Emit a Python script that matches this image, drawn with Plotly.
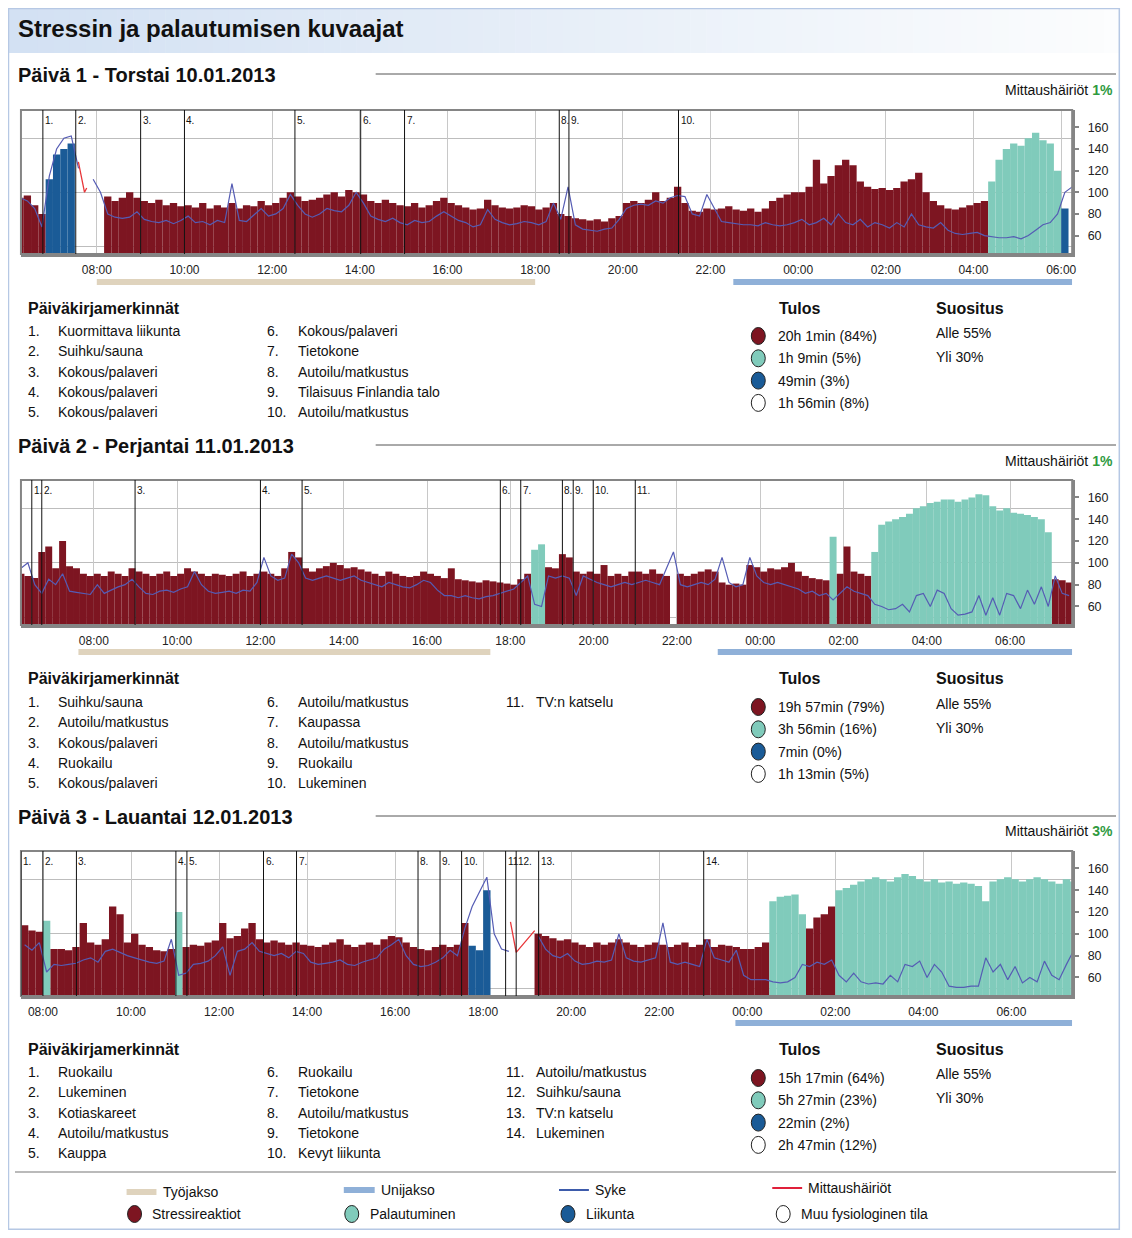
import plotly.graph_objects as go

# ---------------- page geometry helpers ----------------
W, H = 1116, 1222          # figure size (page has an 8px body margin)
OX, OY = 8, 8
def PX(x): return (x - OX) / W
def PY(y): return 1 - (y - OY) / H

FONT = "Liberation Sans, Arial, sans-serif"

# ---------------- data ----------------
day_titles = ["Päivä 1 - Torstai 10.01.2013",
              "Päivä 2 - Perjantai 11.01.2013",
              "Päivä 3 - Lauantai 12.01.2013"]
disturb_pct = ["1%", "1%", "3%"]

# 10-minute bins, start hour of first bin for each day
bin_start = [6 + 10/60, 6 + 10/60, 7.5]
x_ranges = [[6.27, 30.25], [6.25, 31.49], [7.5, 31.38]]

# state per bin: S = stressireaktio, R = palautuminen, E = liikunta, O = muu tila
states_d1 = "SSSS" "EEEE" "OOOO" + "S" * 121 + "R" * 10 + "E" + "O"
states_d2 = "S" * 74 + "RR" + "S" * 18 + "O" + "S" * 22 + "R" + "S" * 5 + "R" * 26 + "S" * 3
states_d3 = "SSS" "R" + "S" * 17 + "R" + "S" * 39 + "EEE" + "O" * 6 + "S" * 32 + "R" * 5 + "S" * 4 + "R" * 33

N = None
heights_d1 = [95, 97, 88, 80,
              112, 135, 140, 145,
              N, N, N, N,
              96, 92, 95, 100, 95, 92, 90, 93, 88, 90, 87,
              88, 86, 90, 85, 88, 86, 90, 85, 88, 87, 92, 88,
              90, 95, 100, 96, 92, 93, 95, 98, 100, 96, 102, 100,
              98, 92, 90, 93, 90, 88, 87, 90, 86, 88, 92, 95,
              90, 88, 86, 84, 85, 93, 88, 86, 85, 86, 88, 87,
              84, 86, 90, 80, 78, 76, 75, 74, 75, 73, 76, 78,
              90, 92, 90, 93, 100, 92, 95, 105, 90, 83, 82, 85,
              84, 85, 87, 84, 83, 85, 82, 85, 92, 95, 98, 100,
              100, 105, 130, 108, 115, 125, 130, 125, 110, 105, 103, 104,
              102, 104, 110, 112, 118, 100, 92, 88, 85, 84, 86, 88,
              90, 92, 110, 130, 140, 145, 143, 150, 155, 148, 145, 120,
              85, N]
hr_d1 = [95, 92, 85, 68,
         115, 140, 150, 152,
         122, N, 112, 100,
         80, 77, 76, 77, 82, 75, 73, 72, 74, 71, 74,
         78, 72, 73, 70, 74, 72, 108, 74, 73, 79, 85, 78,
         80, 85, 98, 88, 80, 77, 80, 85, 83, 82, 88, 100,
         90, 78, 75, 73, 76, 72, 70, 74, 72, 73, 78, 82,
         78, 74, 72, 68, 70, 84, 75, 72, 70, 71, 73, 72,
         70, 73, 90, 75, 105, 70, 66, 65, 64, 66, 67, 75,
         85, 88, 89, 88, 92, 90, 95, 97, 96, 80, 78, 98,
         85, 73, 72, 71, 70, 70, 69, 72, 70, 69, 70, 72,
         75, 70, 72, 76, 70, 80, 72, 70, 75, 68, 72, 70,
         67, 72, 68, 80, 70, 68, 67, 72, 65, 62, 61, 62,
         63, 60, 59, 58, 58, 59, 57, 60, 65, 70, 72, 80,
         100, 105]

heights_d2 = [90, 88, 86, 110, 115, 95, 120, 97, 95, 90, 88, 90,
              88, 92, 90, 88, 95, 92, 90, 88, 90, 92, 88, 90,
              95, 92, 90, 88, 90, 89, 88, 90, 92, 88, 90, 92,
              90, 88, 95, 110, 105, 95, 92, 95, 97, 100, 98, 95,
              96, 94, 92, 90, 88, 92, 90, 88, 87, 88, 92, 90,
              88, 86, 95, 85, 84, 83, 82, 84, 83, 82, 81, 80,
              85, 90, 112, 117, 96, 95, 108, 105, 92, 90, 92, 90,
              98, 88, 90, 88, 92, 92, 90, 94, 90, 88, N, 90,
              88, 90, 92, 94, 92, 82, 80, 81, 80, 98, 96, 92,
              95, 94, 96, 100, 92, 88, 86, 85, 84, 124, 90, 115,
              92, 90, 88, 110, 135, 138, 140, 142, 145, 150, 152, 155,
              156, 158, 158, 156, 158, 160, 163, 162, 152, 148, 150, 146,
              145, 144, 142, 140, 128, 85, 84, 82]
hr_d2 = [95, 100, 80, 72, 85, 80, 90, 74, 73, 72, 71, 80,
         72, 75, 78, 80, 85, 78, 72, 71, 74, 75, 73, 76,
         78, 92, 80, 74, 72, 73, 74, 72, 75, 74, 82, 105,
         88, 84, 86, 108, 100, 86, 84, 86, 88, 86, 84, 86,
         88, 84, 82, 80, 78, 82, 80, 78, 77, 80, 84, 82,
         75, 70, 70, 68, 70, 68, 67, 69, 70, 72, 74, 76,
         82, 88, 62, 60, 88, 86, 88, 86, 70, 88, 85, 82,
         80, 78, 80, 82, 80, 82, 84, 82, 80, 95, 110, 80,
         78, 80, 82, 80, 85, 105, 82, 78, 80, 105, 88, 82,
         80, 82, 80, 78, 76, 72, 74, 70, 72, 66, 72, 78,
         74, 72, 70, 62, 60, 57, 58, 62, 55, 70, 72, 60,
         75, 72, 58, 52, 53, 55, 70, 52, 68, 52, 72, 70,
         58, 75, 62, 78, 60, 88, 72, 70]

heights_d3 = [108, 103, 102, 112, 86, 86, 85, 88, 110, 92, 90, 95,
              125, 118, 92, 100, 90, 88, 85, 84, 86, 120, 88, 90,
              89, 92, 94, 110, 96, 98, 105, 110, 95, 92, 94, 92,
              90, 92, 90, 89, 88, 90, 92, 95, 90, 88, 90, 92,
              90, 95, 98, 97, 92, 88, 86, 85, 88, 90, 88, 90,
              110, 89, 85, 140, N, N, N, N, N, N, 100, 98,
              96, 94, 95, 92, 90, 88, 92, 90, 92, 95, 92, 90,
              88, 90, 92, 90, 88, 90, 92, 88, 90, 95, 88, 90,
              89, 88, 86, 86, 88, 92, 130, 134, 135, 136, 118, 105,
              115, 118, 125, 140, 142, 145, 148, 150, 152, 150, 148, 152,
              155, 153, 150, 148, 150, 147, 148, 146, 147, 146, 144, 130,
              148, 150, 152, 150, 148, 150, 152, 150, 148, 146, 150, 148]
hr_d3 = [90, 85, 92, 65, 72, 71, 72, 73, 76, 78, 74, 84,
         86, 83, 80, 78, 76, 74, 73, 75, 95, 62, 64, 72,
         73, 75, 80, 88, 62, 84, 86, 92, 84, 82, 80, 82,
         78, 84, 82, 74, 72, 73, 74, 76, 72, 71, 74, 76,
         78, 86, 90, 95, 80, 72, 70, 71, 74, 78, 85, 80,
         105, 125, 138, 152, 100, 86, 84, N, N, N, 98, 86,
         80, 78, 82, 75, 72, 73, 75, 74, 76, 100, 78, 75,
         74, 76, 78, 110, 74, 72, 74, 72, 70, 95, 78, 76,
         74, 85, 62, 58, 58, 58, 56, 55, 56, 60, 72, 70,
         74, 72, 76, 62, 56, 64, 56, 54, 55, 54, 62, 56,
         72, 70, 75, 60, 72, 65, 52, 51, 51, 52, 52, 78,
         65, 72, 58, 70, 55, 60, 56, 75, 62, 58, 72, 85]

# measurement disturbance segments (hour, bpm)
dist_x = [[7.58, 7.72, 7.77], [], [18.62, 18.75, 19.17]]
dist_y = [[128, 100, 104], [], [111, 83, 103]]

# diary marker times (hours)
diary_t_d1 = [6.77, 7.52, 9.0, 10.0, 12.52, 14.02, 15.02, 18.55, 18.77, 21.27]
diary_t_d2 = [6.51, 6.75, 8.99, 12.0, 13.0, 17.76, 18.25, 19.25, 19.51, 19.99, 21.0]
diary_t_d3 = [7.5, 8.0, 8.76, 11.02, 11.27, 13.01, 13.76, 16.52, 17.02, 17.51, 18.51, 18.75, 19.26, 23.01]

diary_txt_d1 = ["Kuormittava liikunta", "Suihku/sauna", "Kokous/palaveri", "Kokous/palaveri",
                "Kokous/palaveri", "Kokous/palaveri", "Tietokone", "Autoilu/matkustus",
                "Tilaisuus Finlandia talo", "Autoilu/matkustus"]
diary_txt_d2 = ["Suihku/sauna", "Autoilu/matkustus", "Kokous/palaveri", "Ruokailu",
                "Kokous/palaveri", "Autoilu/matkustus", "Kaupassa", "Autoilu/matkustus",
                "Ruokailu", "Lukeminen", "TV:n katselu"]
diary_txt_d3 = ["Ruokailu", "Lukeminen", "Kotiaskareet", "Autoilu/matkustus", "Kauppa",
                "Ruokailu", "Tietokone", "Autoilu/matkustus", "Tietokone", "Kevyt liikunta",
                "Autoilu/matkustus", "Suihku/sauna", "TV:n katselu", "Lukeminen"]

# work (Työjakso) and sleep (Unijakso) periods, hours
work_start = [8.0, 7.63, None]
work_end = [18.0, 17.52, None]
sleep_start = [22.52, 22.98, 23.73]
sleep_end = [30.25, 31.49, 31.38]

tulos_d1 = ["20h 1min (84%)", "1h 9min (5%)", "49min (3%)", "1h 56min (8%)"]
tulos_d2 = ["19h 57min (79%)", "3h 56min (16%)", "7min (0%)", "1h 13min (5%)"]
tulos_d3 = ["15h 17min (64%)", "5h 27min (23%)", "22min (2%)", "2h 47min (12%)"]
suositus = ["Alle 55%", "Yli 30%"]

x_tick_hours = [8, 10, 12, 14, 16, 18, 20, 22, 24, 26, 28, 30]
x_tick_text = ["08:00", "10:00", "12:00", "14:00", "16:00", "18:00", "20:00",
               "22:00", "00:00", "02:00", "04:00", "06:00"]
y_ticks = [60, 80, 100, 120, 140, 160]
y_grid = [50, 100, 150]

legend_labels = ["Työjakso", "Unijakso", "Syke", "Mittaushäiriöt",
                 "Stressireaktiot", "Palautuminen", "Liikunta", "Muu fysiologinen tila"]

states = [states_d1, states_d2, states_d3]
heights = [heights_d1, heights_d2, heights_d3]
hrs = [hr_d1, hr_d2, hr_d3]
diary_t = [diary_t_d1, diary_t_d2, diary_t_d3]
diary_txt = [diary_txt_d1, diary_txt_d2, diary_txt_d3]
tulos = [tulos_d1, tulos_d2, tulos_d3]

# ---------------- styles ----------------
C_STRESS = "#7d1521"
C_REC = "#80cbbb"
C_EX = "#1a5b97"
C_HR = "#555cb4"
C_DIST = "#e8373a"
C_WORK = "#dfd3bd"
C_SLEEP = "#8fb0d8"
C_AXIS = "#858585"
state_colors = {"S": C_STRESS, "R": C_REC, "E": C_EX}
circle_colors = [C_STRESS, C_REC, C_EX, "#ffffff"]

plot_top = [110, 480, 851]
plot_bot = [254, 625, 996]
head_y = [75, 446, 817]
mitt_y = [90, 461, 831]
period_y = [282, 652, 1023]
sec_y = [308, 678, 1049]
item_y0 = [331, 702, 1072]
tulos_y0 = [336, 707, 1078]
sugg_y0 = [333, 704, 1074]
PLOT_X0, PLOT_X1 = 21, 1076

fig = go.Figure()
shapes = []
ann = []

def text(x, y, s, size=14, anchor="left", color="#111", bold=False):
    ann.append(dict(x=PX(x), y=PY(y), xref="paper", yref="paper", text=("<b>%s</b>" % s) if bold else s,
                    showarrow=False, xanchor=anchor, yanchor="middle",
                    font=dict(family=FONT, size=size, color=color)))

# outer frame and title band
nstrip = 70
x0b, x1b = 6, 1124
for i in range(nstrip):
    f = i / (nstrip - 1)
    r = int(211 + (252 - 211) * f); g = int(225 + (253 - 225) * f); b = int(243 + (254 - 243) * f)
    xa_ = x0b + (x1b - x0b) * i / nstrip
    xb_ = x0b + (x1b - x0b) * (i + 1) / nstrip + 0.5
    shapes.append(dict(type="rect", xref="paper", yref="paper", x0=PX(xa_), x1=PX(xb_),
                       y0=PY(53), y1=PY(4), fillcolor="rgb(%d,%d,%d)" % (r, g, b), line=dict(width=0),
                       layer="below"))
shapes.append(dict(type="rect", xref="paper", yref="paper", x0=PX(8.5), x1=PX(1123.3), y0=PY(1229.3), y1=PY(8.5),
                   line=dict(color="#b6c8e4", width=1.5), fillcolor="rgba(0,0,0,0)"))
text(16, 29, "Stressin ja palautumisen kuvaajat", size=24, bold=True)

for d in range(3):
    n = "" if d == 0 else str(d + 1)
    xa, ya = "x" + n, "y" + n
    centers = [bin_start[d] + (i + 0.5) / 6 for i in range(len(heights[d]))]

    for code, col in state_colors.items():
        xs = [c for c, s, h in zip(centers, states[d], heights[d]) if s == code and h is not None]
        ys = [h for s, h in zip(states[d], heights[d]) if s == code and h is not None]
        fig.add_trace(go.Bar(x=xs, y=ys, width=1 / 6, marker=dict(color=col, line=dict(width=0)),
                             xaxis=xa, yaxis=ya, showlegend=False, hoverinfo="skip"))
    fig.add_trace(go.Scatter(x=centers, y=hrs[d], mode="lines", connectgaps=False,
                             line=dict(color=C_HR, width=1.2), xaxis=xa, yaxis=ya,
                             showlegend=False, hoverinfo="skip"))
    if dist_x[d]:
        fig.add_trace(go.Scatter(x=dist_x[d], y=dist_y[d], mode="lines",
                                 line=dict(color=C_DIST, width=1.3), xaxis=xa, yaxis=ya,
                                 showlegend=False, hoverinfo="skip"))

    fig.layout["xaxis" + n] = dict(domain=[PX(PLOT_X0), PX(PLOT_X1)], range=x_ranges[d], anchor=ya,
                                   tickvals=x_tick_hours, ticktext=x_tick_text, showgrid=True,
                                   gridcolor="#c8c8c8", gridwidth=1, showline=True, linecolor=C_AXIS,
                                   linewidth=3, ticks="", zeroline=False, fixedrange=True,
                                   ticklabelstandoff=3,
                                   tickfont=dict(family=FONT, size=12, color="#222"))
    fig.layout["yaxis" + n] = dict(domain=[PY(plot_bot[d]), PY(plot_top[d])], range=[43, 176], anchor=xa,
                                   side="right", tickvals=y_ticks, showgrid=False,
                                   minor=dict(tickvals=y_grid, showgrid=True, gridcolor="#bdbdbd",
                                              gridwidth=1, ticks=""),
                                   showline=True, linecolor=C_AXIS, linewidth=3, ticks="outside",
                                   ticklen=4, tickwidth=1.5, tickcolor=C_AXIS, zeroline=False,
                                   ticklabelstandoff=6,
                                   fixedrange=True, tickfont=dict(family=FONT, size=12.5, color="#222"))

    # plot frame
    shapes.append(dict(type="rect", xref=xa + " domain", yref=ya + " domain", x0=0, x1=1, y0=0, y1=1,
                       line=dict(color=C_AXIS, width=2), fillcolor="rgba(0,0,0,0)"))
    # diary markers
    px_per_h = (PLOT_X1 - PLOT_X0) / (x_ranges[d][1] - x_ranges[d][0])
    tl = diary_t[d]
    for i, t in enumerate(tl):
        shapes.append(dict(type="line", xref=xa, yref=ya + " domain", x0=t, x1=t, y0=0, y1=1,
                           line=dict(color="#111", width=1)))
        lab = "%d." % (i + 1)
        if i + 1 < len(tl) and i + 1 >= 10 and (tl[i + 1] - t) * px_per_h < 13:
            lab = "%d" % (i + 1)
        ann.append(dict(x=t, y=1, xref=xa, yref=ya + " domain", text=lab, showarrow=False,
                        xanchor="left", yanchor="top", xshift=0, yshift=-3,
                        font=dict(family=FONT, size=10, color="#111")))
    # work / sleep periods
    if work_start[d] is not None:
        shapes.append(dict(type="rect", xref=xa, yref="paper", x0=work_start[d], x1=work_end[d],
                           y0=PY(period_y[d] + 3), y1=PY(period_y[d] - 3), fillcolor=C_WORK, line=dict(width=0)))
    shapes.append(dict(type="rect", xref=xa, yref="paper", x0=sleep_start[d], x1=sleep_end[d],
                       y0=PY(period_y[d] + 3), y1=PY(period_y[d] - 3), fillcolor=C_SLEEP, line=dict(width=0)))

    # headers
    text(16, head_y[d], day_titles[d], size=20, bold=True)
    shapes.append(dict(type="line", xref="paper", yref="paper", x0=PX(377), x1=PX(1120),
                       y0=PY(head_y[d] - 1), y1=PY(head_y[d] - 1), line=dict(color="#555", width=1)))
    text(1119, mitt_y[d], 'Mittaushäiriöt <b><span style="color:#2f9a3f">%s</span></b>' % disturb_pct[d],
         size=14, anchor="right")

    # diary list
    text(26, sec_y[d], "Päiväkirjamerkinnät", size=16, bold=True)
    colx_num = [26, 266, 506]
    colx_txt = [56, 297, 536]
    for i, s in enumerate(diary_txt[d]):
        c, r = divmod(i, 5)
        yy = item_y0[d] + r * 20.3
        text(colx_num[c], yy, "%d." % (i + 1))
        text(colx_txt[c], yy, s)

    # results
    text(780, sec_y[d], "Tulos", size=16, bold=True)
    text(937, sec_y[d], "Suositus", size=16, bold=True)
    for i, s in enumerate(tulos[d]):
        yy = tulos_y0[d] + i * 22.3
        shapes.append(dict(type="circle", xref="paper", yref="paper", x0=PX(754), x1=PX(768),
                           y0=PY(yy + 8.5), y1=PY(yy - 8.5), fillcolor=circle_colors[i],
                           line=dict(color="#222", width=1)))
        text(779, yy, s)
    for i, s in enumerate(suositus):
        text(937, sugg_y0[d] + i * 24, s)

# bottom legend
shapes.append(dict(type="line", xref="paper", yref="paper", x0=PX(15), x1=PX(1120), y0=PY(1172), y1=PY(1172),
                   line=dict(color="#777", width=1.2)))
shapes.append(dict(type="rect", xref="paper", yref="paper", x0=PX(127), x1=PX(157), y0=PY(1195), y1=PY(1189),
                   fillcolor=C_WORK, line=dict(width=0)))
shapes.append(dict(type="rect", xref="paper", yref="paper", x0=PX(345), x1=PX(376), y0=PY(1193), y1=PY(1187),
                   fillcolor=C_SLEEP, line=dict(width=0)))
shapes.append(dict(type="line", xref="paper", yref="paper", x0=PX(561), x1=PX(591), y0=PY(1190), y1=PY(1190),
                   line=dict(color="#3d5bab", width=2)))
shapes.append(dict(type="line", xref="paper", yref="paper", x0=PX(775), x1=PX(805), y0=PY(1188), y1=PY(1188),
                   line=dict(color="#e0203a", width=2)))
text(162, 1192, legend_labels[0])
text(380, 1190, legend_labels[1])
text(595, 1190, legend_labels[2])
text(809, 1188, legend_labels[3])
for cx, lab, col in zip([135, 353, 570, 786], legend_labels[4:], circle_colors):
    shapes.append(dict(type="circle", xref="paper", yref="paper", x0=PX(cx - 7), x1=PX(cx + 7),
                       y0=PY(1214 + 8.5), y1=PY(1214 - 8.5), fillcolor=col, line=dict(color="#222", width=1)))
    text(cx + 16, 1214, lab)

fig.update_layout(width=W, height=H, margin=dict(l=0, r=0, t=0, b=0), paper_bgcolor="white",
                  plot_bgcolor="white", barmode="overlay", shapes=shapes, annotations=ann,
                  showlegend=False, font=dict(family=FONT))

fig.write_html("out.html")
